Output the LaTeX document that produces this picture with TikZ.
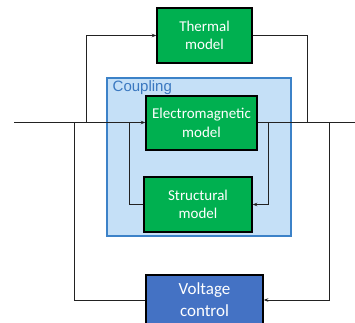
\documentclass[tikz,border=0pt]{standalone}
\usepackage{fontspec}
\setmainfont{Carlito}
\newfontfamily\cplfont{Liberation Sans}
\usetikzlibrary{arrows.meta}
\definecolor{mgreen}{HTML}{00B050}
\definecolor{mblue}{HTML}{4472C4}
\definecolor{cfill}{HTML}{C5E0F7}
\definecolor{cborder}{HTML}{3C82C8}
\definecolor{ctext}{HTML}{3A78C0}
\definecolor{wire}{HTML}{222222}
\tikzset{
  model/.style={draw=black, line width=1.5pt, fill=mgreen, text=white, align=center,
    font=\fontsize{15}{18.5}\selectfont, inner sep=0pt},
  ctrl/.style={draw=black, line width=1.5pt, fill=mblue, text=white, align=center,
    font=\fontsize{17}{22}\selectfont, inner sep=0pt},
  wireline/.style={draw=wire, line width=1pt},
  arr/.style={wireline, -{Stealth[length=4.5pt,width=3.5pt]}},
}
\begin{document}
\begin{tikzpicture}[x=1pt,y=-1pt]
\useasboundingbox (0,0) rectangle (355,322);
\clip (0,0) rectangle (355,322);
% coupling region
\draw[draw=cborder, line width=1.2pt, fill=cfill] (107,78) rectangle (291,236);
\node[anchor=base west, text=ctext, font=\cplfont\fontsize{15}{18}\selectfont, inner sep=0pt] (cpl) at (112.5,91.5) {Coupling};
% boxes
\node[model, minimum width=95pt, minimum height=55pt] (th) at (204.5,35.5) {Thermal\\model};
\node[model, minimum width=111pt, minimum height=54pt] (em) at (201.5,123) {Electromagnetic\\model};
\node[model, minimum width=108pt, minimum height=55pt] (st) at (198,204.5) {Structural\\model};
\node[ctrl, minimum width=117pt, minimum height=50pt] (vc) at (204.5,300) {Voltage\\control};
% main line coordinates
\coordinate (in) at (14,122.5);
\coordinate (out) at (355,122.5);
\coordinate (tl) at (86,122.5);
\coordinate (tr) at (307,122.5);
\coordinate (sl) at (129,122.5);
\coordinate (sr) at (268,122.5);
\coordinate (vl) at (74,122.5);
\coordinate (vr) at (329,122.5);
% connectors
\draw[arr] (in) -- (em.west |- in);
\draw[wireline] (em.east |- out) -- (out);
\draw[arr] (tl) |- (th.west);
\draw[wireline] (th.east) -| (tr);
\draw[arr] (sr) |- (st.east);
\draw[wireline] (st.west) -| (sl);
\draw[arr] (vr) |- (vc.east);
\draw[wireline] (vc.west) -| (vl);
\end{tikzpicture}
\end{document}
